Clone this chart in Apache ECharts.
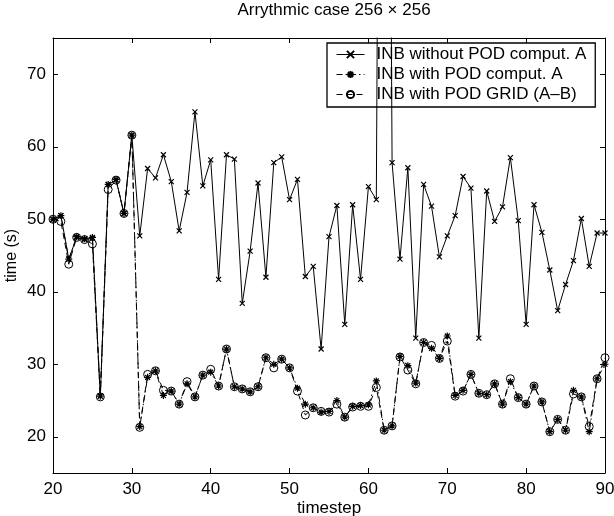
<!DOCTYPE html>
<html>
<head>
<meta charset="utf-8">
<script src="https://cdn.jsdelivr.net/npm/echarts@6/dist/echarts.min.js"></script>
<style>
html,body{margin:0;padding:0;background:#fff;}
#c{width:614px;height:516px;}
</style>
</head>
<body>
<div id="c"></div>
<script>
const timesteps = [20,21,22,23,24,25,26,27,28,29,30,31,32,33,34,35,36,37,38,39,40,41,42,43,44,45,46,47,48,49,50,51,52,53,54,55,56,57,58,59,60,61,62,63,64,65,66,67,68,69,70,71,72,73,74,75,76,77,78,79,80,81,82,83,84,85,86,87,88,89,90];

const seriesNames = ["INB without POD comput. A", "INB with POD comput. A", "INB with POD GRID (A\u2013B)"];

const withoutPOD = [50.0,50.5,44.5,47.5,47.2,47.4,25.6,54.8,55.4,50.8,61.6,47.7,57.0,55.7,58.9,55.2,48.4,53.7,64.8,54.6,58.2,41.7,58.9,58.3,38.4,45.6,55.0,42.0,57.8,58.6,52.7,55.5,42.1,43.5,32.1,47.6,51.9,35.5,52.0,41.7,54.5,52.7,250.0,57.8,44.5,57.1,33.6,54.8,51.8,44.8,47.7,50.5,55.9,54.3,33.6,53.9,49.7,51.7,58.5,49.8,35.5,52.0,48.2,43.0,37.4,41.0,44.3,50.1,43.5,48.1,48.1];

const withPOD = [50.0,50.5,44.5,47.6,47.3,47.5,25.6,54.8,55.5,50.8,61.6,21.4,28.2,29.1,25.7,26.3,24.5,27.3,25.5,28.5,28.9,27.0,32.1,26.9,26.6,26.2,26.9,30.9,30.0,30.7,29.5,26.7,24.5,24.0,23.4,23.5,25.0,22.7,24.2,24.3,24.4,27.7,20.9,21.5,31.1,29.8,27.4,33.0,32.2,30.8,33.9,25.7,26.4,28.6,26.0,25.8,27.3,24.5,27.6,25.4,24.5,27.0,24.8,20.7,22.4,20.9,26.4,25.5,20.7,28.0,30.0];

const withPODGrid = [50.0,49.7,43.8,47.5,47.2,46.6,25.5,54.1,55.4,50.8,61.6,21.3,28.6,29.1,26.4,26.3,24.5,27.6,25.5,28.5,29.3,27.0,32.1,26.9,26.6,26.2,26.9,30.9,29.5,30.7,29.5,26.3,23.0,24.0,23.5,23.4,24.5,22.7,24.1,24.2,24.2,26.8,20.9,21.5,31.0,29.2,27.3,33.0,32.6,30.8,33.2,25.6,26.3,28.6,26.0,25.8,27.3,24.5,28.0,25.4,24.5,27.0,24.8,20.7,22.4,20.9,25.9,25.5,21.4,28.0,30.9];

const xTicks = [20,30,40,50,60,70,80,90];
const yTicks = [20,30,40,50,60,70];

function pairs(vals){ return timesteps.map((t,i)=>[t, vals[i]]); }

const FONT = 'Liberation Sans, Arial, Helvetica, sans-serif';
const chart = echarts.init(document.getElementById('c'), null, {renderer:'canvas'});

const axisLineStyle = {color:'#000', width:1};
const commonX = {type:'value', min:20, max:90, interval:10, splitLine:{show:false},
  axisLine:{show:true, onZero:false, lineStyle:axisLineStyle},
  axisTick:{show:true, inside:true, length:5, customValues:xTicks, lineStyle:axisLineStyle}};
const commonY = {type:'value', min:15, max:75, splitLine:{show:false},
  axisLine:{show:true, onZero:false, lineStyle:axisLineStyle},
  axisTick:{show:true, inside:true, length:5, customValues:yTicks, lineStyle:axisLineStyle}};

const xMark = 'path://M0,0L10,10M10,0L0,10';
const starMark = 'path://M5,0L5,10M0,5L10,5M1.5,1.5L8.5,8.5M8.5,1.5L1.5,8.5';

chart.setOption({
  animation:false,
  backgroundColor:'#fff',
  title:{text:'Arrythmic case 256 \u00d7 256', left:329, top:-3, textAlign:'center',
    textStyle:{fontFamily:FONT, fontSize:17, fontWeight:'normal', color:'#000'}},
  grid:{left:53, right:9, top:38, bottom:43, containLabel:false, outerBoundsMode:'none'},
  legend:{orient:'vertical', left:327, top:43, data:seriesNames,
    backgroundColor:'#fff', borderColor:'#000', borderWidth:1.3, borderRadius:0,
    padding:[3,9,4,9], itemWidth:28, itemHeight:9, itemGap:3,
    lineStyle:{width:1},
    textStyle:{fontFamily:FONT, fontSize:17, color:'#000', lineHeight:16, padding:[0,0,0,7]}},
  xAxis:[
    Object.assign({}, commonX, {position:'bottom', name:'timestep', nameLocation:'middle', nameGap:27,
      nameMoveOverlap:false,
      nameTextStyle:{fontFamily:FONT, fontSize:17, color:'#000'},
      axisLabel:{show:true, fontFamily:FONT, fontSize:17, color:'#000', margin:8}}),
    Object.assign({}, commonX, {position:'top', axisLabel:{show:false}})
  ],
  yAxis:[
    Object.assign({}, commonY, {position:'left', name:'time (s)', nameLocation:'middle', nameGap:33,
      nameMoveOverlap:false,
      nameTextStyle:{fontFamily:FONT, fontSize:16, color:'#000'},
      axisLabel:{show:true, customValues:yTicks, fontFamily:FONT, fontSize:17, color:'#000', margin:7}}),
    Object.assign({}, commonY, {position:'right', axisLabel:{show:false}})
  ],
  series:[
    {name:seriesNames[2], type:'line', data:pairs(withPODGrid), clip:true,
      symbol:'circle', symbolSize:8, showAllSymbol:true,
      lineStyle:{color:'#000', width:1, type:[6,4]},
      itemStyle:{color:'rgba(0,0,0,0)', borderColor:'#000', borderWidth:1}, z:2},
    {name:seriesNames[1], type:'line', data:pairs(withPOD), clip:true,
      symbol:starMark, symbolSize:7, showAllSymbol:true,
      lineStyle:{color:'#000', width:1, type:[6,3,1.5,3]},
      itemStyle:{color:'#000', borderColor:'#000', borderWidth:1.2}, z:3},
    {name:seriesNames[0], type:'line', data:pairs(withoutPOD), clip:true,
      symbol:xMark, symbolSize:5, showAllSymbol:true,
      lineStyle:{color:'#000', width:1, type:'solid'},
      itemStyle:{color:'#000', borderColor:'#000', borderWidth:1.2}, z:4}
  ]
});
</script>
</body>
</html>
